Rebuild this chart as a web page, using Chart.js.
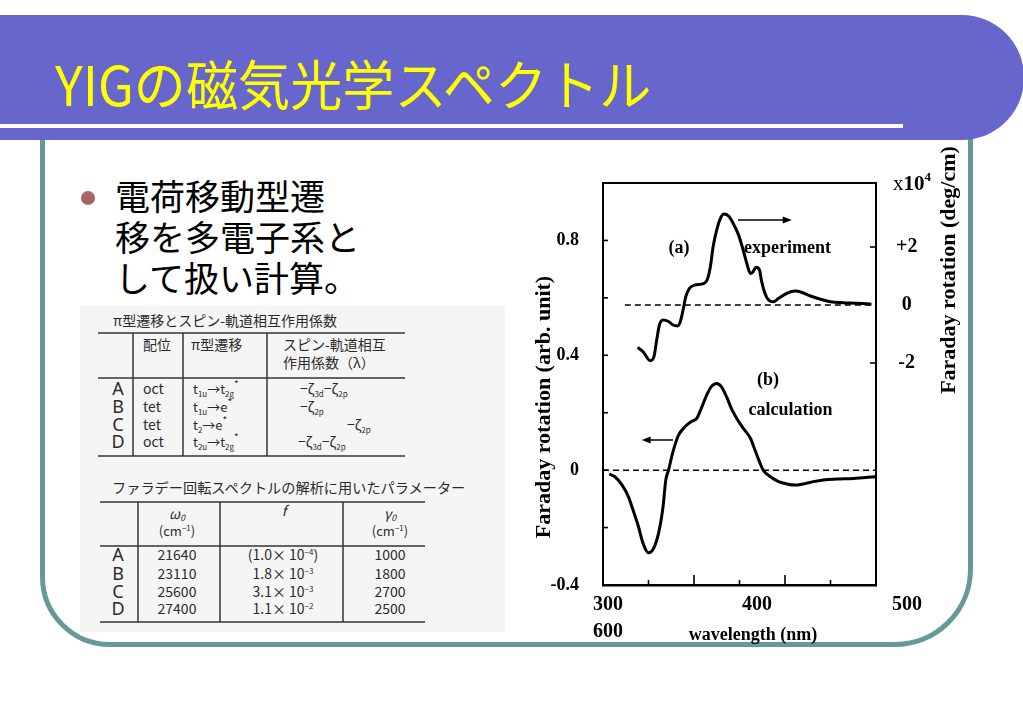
<!DOCTYPE html>
<html><head><meta charset="utf-8">
<script src="https://cdn.jsdelivr.net/npm/chart.js@4.4.1/dist/chart.umd.min.js"></script>
<style>
html,body{margin:0;padding:0;background:#fff;}
body{width:1023px;height:708px;position:relative;overflow:hidden;font-family:"Noto Sans CJK JP","Noto Sans",sans-serif;}
.abs{position:absolute;}
#frame{left:40px;top:110px;width:933px;height:537px;box-sizing:border-box;border:5px solid #669999;border-radius:0 0 78px 70px;}
#band{left:0;top:15px;width:1024px;height:125px;background:#6666CC;border-radius:0 62px 62px 0;}
#wline{left:0;top:124px;width:903px;height:4px;background:#fff;}
#title{left:55px;top:53px;font-size:54px;line-height:60px;color:#FFFF00;white-space:nowrap;transform:scaleX(0.965);transform-origin:0 0;}
#bullet{left:81px;top:191px;width:14px;height:14px;border-radius:50%;background:#A66565;}
#btext{left:115px;top:174px;font-size:35px;line-height:41px;color:#000;white-space:nowrap;}
canvas{position:absolute;left:0;top:0;}
</style>
</head><body>
<div id="frame" class="abs"></div>
<div id="band" class="abs"></div>
<div id="wline" class="abs"></div>
<div id="title" class="abs">YIGの磁気光学スペクトル</div>
<div id="bullet" class="abs"></div>
<div id="btext" class="abs">電荷移動型遷<br>移を多電子系と<br>して扱い計算。</div>

<svg class="abs" style="left:0;top:0" width="1023" height="708">
<rect x="80" y="306" width="425" height="326" fill="#f5f5f5"/>
<g font-family="Noto Sans CJK JP" font-size="14" fill="#2b2b2b">
 <text x="113" y="326">π型遷移とスピン-軌道相互作用係数</text>
 <g stroke="#333" stroke-width="1.5">
  <line x1="98" y1="333" x2="405" y2="333"/>
  <line x1="98" y1="378" x2="405" y2="378"/>
  <line x1="98" y1="456" x2="405" y2="456"/>
  <line x1="133" y1="333" x2="133" y2="456"/>
  <line x1="183" y1="333" x2="183" y2="456"/>
  <line x1="267" y1="333" x2="267" y2="456"/>
 </g>
 <text x="143" y="350">配位</text>
 <text x="191" y="350">π型遷移</text>
 <text x="283" y="350">スピン-軌道相互</text>
 <text x="283" y="368">作用係数（λ）</text>
 <g font-family="Noto Sans" font-size="18" text-anchor="middle">
  <text x="118" y="395">A</text><text x="118" y="413">B</text><text x="118" y="431">C</text><text x="118" y="448">D</text>
 </g>
 <text x="143" y="394">oct</text><text x="143" y="412">tet</text><text x="143" y="430">tet</text><text x="143" y="447">oct</text>
 <text x="193" y="394" font-size="13">t<tspan font-size="8" dy="3">1u</tspan><tspan dy="-3">→t</tspan><tspan font-size="8" dy="3">2g</tspan><tspan font-size="10" dy="-9">*</tspan></text>
 <text x="193" y="412" font-size="13">t<tspan font-size="8" dy="3">1u</tspan><tspan dy="-3">→e</tspan><tspan font-size="10" dy="-6">*</tspan></text>
 <text x="193" y="430" font-size="13">t<tspan font-size="8" dy="3">2</tspan><tspan dy="-3">→e</tspan><tspan font-size="10" dy="-6">*</tspan></text>
 <text x="193" y="447" font-size="13">t<tspan font-size="8" dy="3">2u</tspan><tspan dy="-3">→t</tspan><tspan font-size="8" dy="3">2g</tspan><tspan font-size="10" dy="-9">*</tspan></text>
 <text x="300" y="394">−ζ<tspan font-size="8" dy="3">3d</tspan><tspan dy="-3">−ζ</tspan><tspan font-size="8" dy="3">2p</tspan></text>
 <text x="300" y="412">−ζ<tspan font-size="8" dy="3">2p</tspan></text>
 <text x="347" y="430">−ζ<tspan font-size="8" dy="3">2p</tspan></text>
 <text x="298" y="447">−ζ<tspan font-size="8" dy="3">3d</tspan><tspan dy="-3">−ζ</tspan><tspan font-size="8" dy="3">2p</tspan></text>

 <text x="112" y="493" font-size="14.2">ファラデー回転スペクトルの解析に用いたパラメーター</text>
 <g stroke="#333" stroke-width="1.5">
  <line x1="100" y1="502" x2="425" y2="502"/>
  <line x1="100" y1="546" x2="425" y2="546"/>
  <line x1="100" y1="622" x2="425" y2="622"/>
  <line x1="138" y1="502" x2="138" y2="622"/>
  <line x1="220" y1="502" x2="220" y2="622"/>
  <line x1="343" y1="502" x2="343" y2="622"/>
 </g>
 <g text-anchor="middle">
  <text x="177" y="519" font-style="italic">ω<tspan font-size="9" dy="2">0</tspan></text>
  <text x="177" y="536" font-size="13">(cm<tspan font-size="8" dy="-5">−1</tspan><tspan dy="5">)</tspan></text>
  <text x="284" y="516" font-style="italic">f</text>
  <text x="390" y="519" font-style="italic">γ<tspan font-size="9" dy="2">0</tspan></text>
  <text x="390" y="536" font-size="13">(cm<tspan font-size="8" dy="-5">−1</tspan><tspan dy="5">)</tspan></text>
  <text x="177" y="560">21640</text><text x="177" y="579">23110</text><text x="177" y="597">25600</text><text x="177" y="614">27400</text>
  <text x="283" y="560">(1.0× 10<tspan font-size="8" dy="-5">−4</tspan><tspan dy="5">)</tspan></text>
  <text x="283" y="579">1.8× 10<tspan font-size="8" dy="-5">−3</tspan></text>
  <text x="283" y="597">3.1× 10<tspan font-size="8" dy="-5">−3</tspan></text>
  <text x="283" y="614">1.1× 10<tspan font-size="8" dy="-5">−2</tspan></text>
  <text x="390" y="560">1000</text><text x="390" y="579">1800</text><text x="390" y="597">2700</text><text x="390" y="614">2500</text>
 </g>
 <g font-family="Noto Sans" font-size="18" text-anchor="middle">
  <text x="118" y="561">A</text><text x="118" y="580">B</text><text x="118" y="598">C</text><text x="118" y="615">D</text>
 </g>
</g>
</svg>

<canvas id="c" width="1023" height="708"></canvas>

<svg class="abs" style="left:0;top:0" width="1023" height="708">
<g font-family="Liberation Serif" font-weight="bold" fill="#000">
 <text x="542" y="407" font-size="22" text-anchor="middle" dominant-baseline="central" transform="rotate(-90 542 407)">Faraday rotation (arb. unit)</text>
 <text x="947" y="270" font-size="22" text-anchor="middle" dominant-baseline="central" transform="rotate(-90 947 270)">Faraday rotation (deg/cm)</text>
 <text x="893" y="190" font-size="21"><tspan font-weight="normal">x</tspan>10<tspan font-size="13" dy="-9">4</tspan></text>
 <g font-size="20" text-anchor="middle">
  <text x="608" y="610">300</text>
  <text x="757" y="610">400</text>
  <text x="907" y="610">500</text>
  <text x="608" y="637">600</text>
 </g>
 <text x="753" y="640" font-size="18" text-anchor="middle">wavelength (nm)</text>
</g>
</svg>

<script>
// ---- data ----
// (a) experiment: Faraday rotation, deg/cm (x10^4), right axis
const wavelengthExp = [338,344,352,356,359,362,366,372,377,382,385,388,391,395,401,408,414,418,421,425,429,433,438,443,449,454,458,462,465,468,472,474,478,482,487,493,502,511,518,528,539,550,564,579,595];
const rotationExp = [-1.46,-1.61,-1.92,-1.78,-1.21,-0.69,-0.52,-0.57,-0.69,-0.72,-0.57,-0.17,0.29,0.57,0.69,0.72,0.84,1.32,2.01,2.59,2.99,3.14,3.07,2.82,2.41,1.90,1.44,1.09,1.15,1.30,1.21,0.86,0.40,0.17,0.11,0.23,0.40,0.48,0.44,0.31,0.20,0.11,0.08,0.06,0.03];
// (b) calculation: Faraday rotation, arb. unit, left axis
const wavelengthCalc = [307,313,321,328,333,339,344,350,355,361,366,369,372,376,379,383,390,397,403,408,414,419,425,430,436,441,447,454,462,467,472,476,484,493,502,511,520,531,542,557,575,599];
const rotationCalc = [-0.014,-0.023,-0.052,-0.093,-0.139,-0.197,-0.255,-0.288,-0.276,-0.220,-0.127,-0.034,0.000,0.053,0.087,0.122,0.151,0.169,0.180,0.215,0.262,0.291,0.302,0.291,0.254,0.215,0.180,0.146,0.111,0.070,0.029,0.000,-0.023,-0.040,-0.048,-0.052,-0.048,-0.040,-0.034,-0.031,-0.029,-0.023];
// zero reference lines
const zeroCalcRange = [300, 600];
const zeroExpRange = [324, 600];
// ticks
const leftTicks = [-0.4,-0.2,0,0.2,0.4,0.6,0.8];
const leftLabelled = [-0.4,0,0.4,0.8];
const rightTicks = [-2,0,2];
const rightTickMarks = [-2,2];
const xMajorTicks = [400,500];
const xMinorTicks = [350,450,550];

const toPts = (xs, ys) => xs.map((x,i)=>({x, y: ys[i]}));

const annotations = [
  {text:'(a)', x:383.5, y:0.774},
  {text:'experiment', x:502.7, y:0.774},
  {text:'(b)', x:481.3, y:0.314},
  {text:'calculation', x:506.0, y:0.209}
];
const arrows = [
  {from:448.4, to:507.4, y:0.871},
  {from:376.9, to:342.5, y:0.105}
];

const decor = {
  id:'decor',
  afterDatasetsDraw(chart){
    const {ctx, chartArea:a, scales:{x,y,y2}} = chart;
    ctx.save();
    ctx.strokeStyle='#000';
    ctx.lineWidth=2;
    ctx.beginPath(); ctx.moveTo(a.left-1,a.top); ctx.lineTo(a.right+1,a.top); ctx.stroke();
    ctx.lineWidth=1.6;
    const ln=(x1,y1,x2,y2)=>{ctx.beginPath();ctx.moveTo(x1,y1);ctx.lineTo(x2,y2);ctx.stroke();};
    xMajorTicks.forEach(v=>{const p=x.getPixelForValue(v); ln(p,a.bottom,p,a.bottom-10);});
    xMinorTicks.forEach(v=>{const p=x.getPixelForValue(v); ln(p,a.bottom,p,a.bottom-5);});
    leftTicks.filter(v=>v>-0.4).forEach(v=>{const p=y.getPixelForValue(v); ln(a.left,p,a.left+5,p);});
    rightTickMarks.forEach(v=>{const p=y2.getPixelForValue(v); ln(a.right-6,p,a.right,p);});
    ctx.fillStyle='#000';
    ctx.font='bold 18px "Liberation Serif"';
    ctx.textAlign='center'; ctx.textBaseline='middle';
    annotations.forEach(t=>ctx.fillText(t.text, x.getPixelForValue(t.x), y.getPixelForValue(t.y)));
    ctx.lineWidth=1.5;
    arrows.forEach(ar=>{
      const x1=x.getPixelForValue(ar.from), x2=x.getPixelForValue(ar.to), py=y.getPixelForValue(ar.y);
      const d = x2>x1?1:-1;
      ln(x1,py,x2-d*6,py);
      ctx.beginPath(); ctx.moveTo(x2,py); ctx.lineTo(x2-d*9,py-3.5); ctx.lineTo(x2-d*9,py+3.5); ctx.closePath(); ctx.fill();
    });
    ctx.restore();
  }
};

const tickFont = {family:'Liberation Serif', size:18, weight:'bold'};
new Chart(document.getElementById('c'), {
  type:'line',
  data:{datasets:[
    {label:'calculation', data:toPts(wavelengthCalc, rotationCalc), yAxisID:'y', borderColor:'#000', borderWidth:3, pointRadius:0, cubicInterpolationMode:'monotone', fill:false},
    {label:'experiment', data:toPts(wavelengthExp, rotationExp), yAxisID:'y2', borderColor:'#000', borderWidth:3, pointRadius:0, cubicInterpolationMode:'monotone', fill:false},
    {label:'zero (b)', data:zeroCalcRange.map(v=>({x:v,y:0})), yAxisID:'y', borderColor:'#000', borderWidth:1.5, borderDash:[6,4], pointRadius:0},
    {label:'zero (a)', data:zeroExpRange.map(v=>({x:v,y:0})), yAxisID:'y2', borderColor:'#000', borderWidth:1.5, borderDash:[6,4], pointRadius:0}
  ]},
  options:{
    responsive:false, animation:false,
    layout:{padding:{left:523, right:87, top:183, bottom:123}},
    plugins:{legend:{display:false}, tooltip:{enabled:false}},
    scales:{
      x:{type:'linear', min:300, max:600, grid:{display:false, drawTicks:false}, ticks:{display:false},
         border:{display:true, color:'#000', width:2.5}, afterFit:s=>{s.height=0;}},
      y:{type:'linear', position:'left', min:-0.4, max:1.0, grid:{display:false, drawTicks:false},
         border:{color:'#000', width:2},
         afterBuildTicks:s=>{s.ticks=leftTicks.map(v=>({value:v}));},
         ticks:{padding:24, color:'#000', font:tickFont, callback:v=>leftLabelled.includes(v)?String(v):''},
         afterFit:s=>{s.width=80;}},
      y2:{type:'linear', position:'right', min:-9.655, max:4.207, grid:{display:false, drawTicks:false},
         border:{color:'#000', width:2},
         afterBuildTicks:s=>{s.ticks=rightTicks.map(v=>({value:v}));},
         ticks:{padding:20, crossAlign:'center', color:'#000', font:{family:'Liberation Serif', size:20, weight:'bold'}, callback:v=>v>0?'+'+v:String(v)},
         afterFit:s=>{s.width=60;}}
    }
  },
  plugins:[decor]
});
</script>
</body></html>
